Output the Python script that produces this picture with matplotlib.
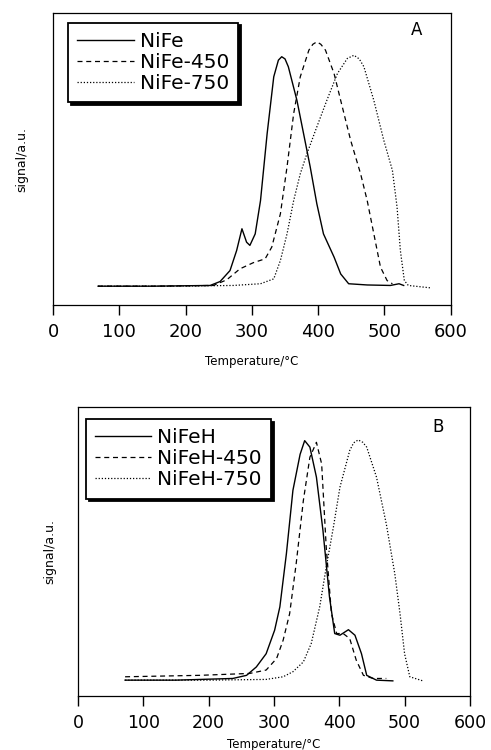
import matplotlib
matplotlib.use("Agg")
import matplotlib.pyplot as plt

# ---------------- Panel A data ----------------
nife_T = [68, 150, 237, 252, 267, 277, 285, 292, 297, 305, 313, 323, 333, 340, 345, 350, 355, 368, 378, 388, 398, 408, 424, 434, 446, 474, 509, 522, 529]
nife_S = [0, 0, 0.3, 1.9, 6.4, 14.6, 23.5, 18, 16.7, 21.4, 35, 62.4, 85.7, 92.5, 93.9, 93, 89.8, 76, 62.4, 48.8, 33.7, 21.4, 11.9, 5, 1, 0.5, 0.3, 1, 0.3]

nife450_T = [68, 150, 242, 262, 282, 302, 320, 330, 343, 353, 363, 373, 386, 392, 398, 404, 411, 424, 434, 449, 464, 474, 484, 494, 504, 512]
nife450_S = [0, 0, 0.3, 2.6, 7.1, 9.6, 11.2, 16, 29.6, 48.8, 70.6, 85.7, 96.6, 99, 100, 99, 96.6, 87, 76, 59.7, 46, 35, 21.4, 7.8, 2.3, 1]

nife750_T = [68, 180, 272, 313, 333, 343, 353, 363, 373, 383, 398, 413, 429, 444, 454, 462, 469, 484, 499, 512, 519, 524, 530, 536, 570]
nife750_S = [0, 0, 0.3, 1, 3, 10.5, 21.4, 35, 46, 54.2, 65.2, 76, 87, 93.2, 94.5, 93, 89.8, 76, 59.7, 47.4, 32.4, 14.6, 2.3, 0.3, -0.7]

# ---------------- Panel B data ----------------
nifeh_T = [72, 150, 237, 258, 273, 288, 301, 309, 319, 329, 340, 347, 355, 365, 375, 385, 393, 401, 414, 424, 434, 442, 457, 482]
nifeh_S = [0, 0, 0.7, 2, 5.5, 11, 20.8, 30.5, 52.6, 79, 94, 99.7, 97, 84.5, 62.3, 34.6, 19.4, 18.7, 21, 18.7, 11, 2, 0, -0.3]

nifeh450_T = [72, 186, 263, 288, 304, 314, 324, 334, 345, 355, 365, 373, 380, 388, 396, 406, 416, 426, 437, 452, 472]
nifeh450_S = [1.4, 2, 2.8, 4.2, 9, 16.6, 27.7, 48.5, 74.8, 92.8, 99, 90, 55.4, 27.7, 19.4, 19.4, 17.3, 8.3, 2, 0.7, 0.7]

nifeh750_T = [72, 200, 288, 314, 329, 345, 357, 370, 380, 391, 401, 416, 422, 429, 436, 442, 457, 472, 485, 493, 500, 508, 528]
nifeh750_S = [0, 0, 0.3, 1.4, 3.5, 7.6, 15.2, 30.5, 47, 63.7, 80.3, 95.6, 98.8, 100, 99, 97, 84.5, 65, 44.3, 27.7, 11, 1.4, -0.3]

labels_A = ["NiFe", "NiFe-450", "NiFe-750"]
labels_B = ["NiFeH", "NiFeH-450", "NiFeH-750"]
xticks = [0, 100, 200, 300, 400, 500, 600]

styles = [dict(ls="-", lw=1.0), dict(ls=(0, (4, 3)), lw=0.9), dict(ls=(0, (1, 1.5)), lw=0.9)]

fig = plt.figure(figsize=(4.91, 7.5), dpi=100)
axA = fig.add_axes([0.108, 0.593, 0.810, 0.390])
axB = fig.add_axes([0.159, 0.072, 0.798, 0.385])

def style_axes(ax, ylim, tick_fs, xlabel_fs, ylab_fs, ylabpad):
    ax.set_xlim(0, 600)
    ax.set_ylim(*ylim)
    ax.set_xticks(xticks)
    ax.set_xticklabels([str(t) for t in xticks], fontsize=tick_fs)
    ax.set_yticks([])
    ax.tick_params(axis="x", direction="out", length=7, width=1, pad=6)
    for s in ax.spines.values():
        s.set_linewidth(0.9)
    ax.set_ylabel("signal/a.u.", fontsize=ylab_fs, labelpad=ylabpad)
    ax.set_xlabel("Temperature/°C", fontsize=xlabel_fs, labelpad=10)

def add_legend(ax, anchor, fs):
    leg = ax.legend(loc="upper left", bbox_to_anchor=anchor, borderaxespad=0,
                    fontsize=fs, handlelength=2.8, handletextpad=0.3,
                    labelspacing=0.1, borderpad=0.45, fancybox=False,
                    shadow={"facecolor": "k", "edgecolor": "k", "alpha": 1})
    fr = leg.get_frame()
    fr.set_edgecolor("k")
    fr.set_linewidth(1.3)
    fr.set_alpha(1)
    return leg

# Panel A
for T, S, lab, st in zip([nife_T, nife450_T, nife750_T], [nife_S, nife450_S, nife750_S], labels_A, styles):
    axA.plot(T, S, color="k", label=lab, **st)
style_axes(axA, (-7.8, 111.9), 13, 8.5, 9, 18)
add_legend(axA, (0.038, 0.966), 14.5)
axA.text(0.915, 0.94, "A", transform=axA.transAxes, fontsize=12, ha="center", va="center")

# Panel B
for T, S, lab, st in zip([nifeh_T, nifeh450_T, nifeh750_T], [nifeh_S, nifeh450_S, nifeh750_S], labels_B, styles):
    axB.plot(T, S, color="k", label=lab, **st)
style_axes(axB, (-6.6, 113.6), 12.5, 8.5, 9, 16)
axB.xaxis.labelpad = 4
add_legend(axB, (0.02, 0.958), 14.5)
axB.text(0.918, 0.93, "B", transform=axB.transAxes, fontsize=12, ha="center", va="center")

fig.savefig("out.png", dpi=100)
